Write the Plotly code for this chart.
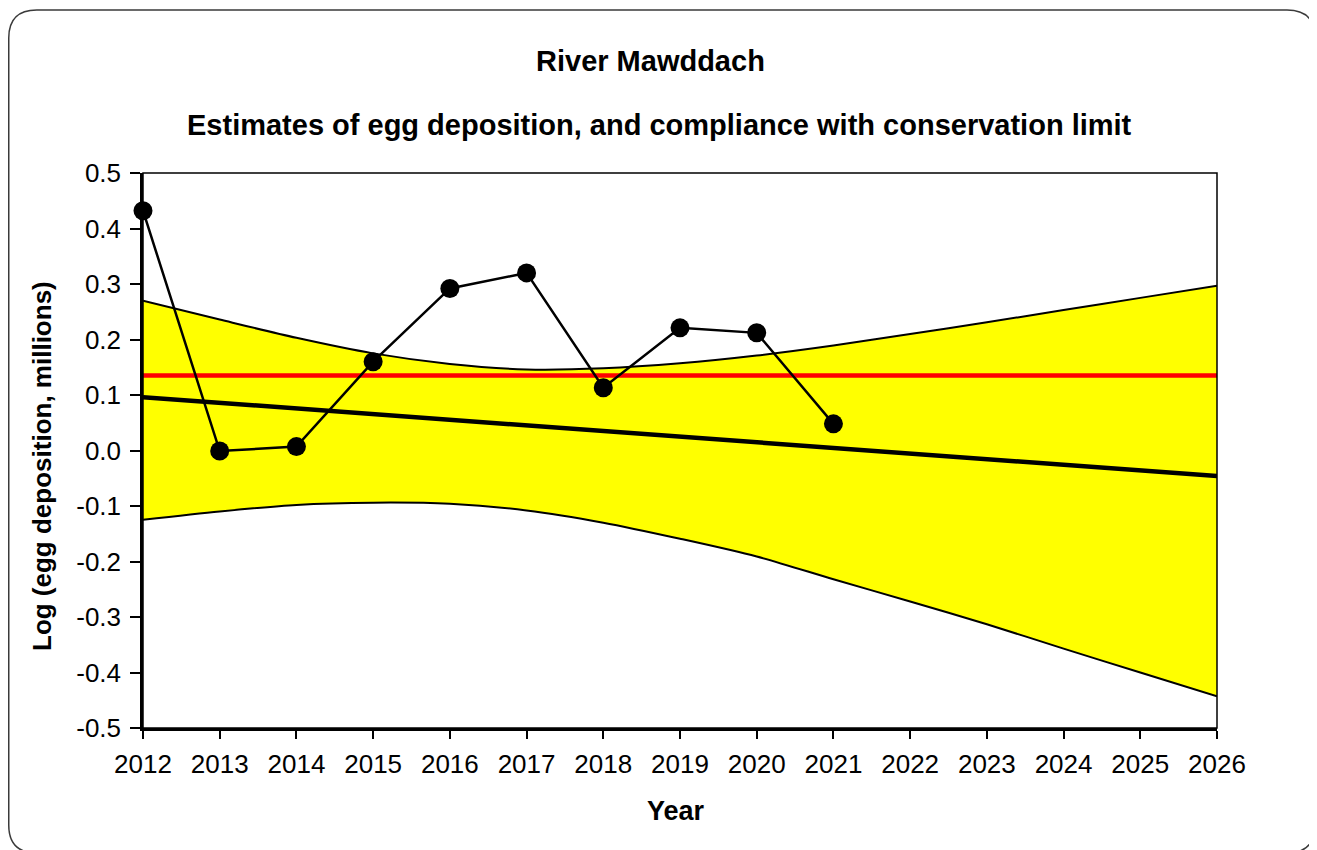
import plotly.graph_objects as go

# ---- data ----
years = [2012, 2013, 2014, 2015, 2016, 2017, 2018, 2019, 2020, 2021]
log_egg = [0.432, -0.001, 0.007, 0.160, 0.292, 0.320, 0.113, 0.221, 0.212, 0.048]

band_years = [2012, 2013, 2014, 2015, 2016, 2017, 2018, 2019, 2020, 2021, 2022, 2023, 2024, 2025, 2026]
upper_ci = [0.270, 0.236, 0.203, 0.175, 0.156, 0.146, 0.148, 0.157, 0.171, 0.189, 0.210, 0.231, 0.253, 0.275, 0.297]
lower_ci = [-0.125, -0.110, -0.098, -0.094, -0.096, -0.108, -0.130, -0.159, -0.191, -0.232, -0.272, -0.313, -0.357, -0.400, -0.443]

trend_years = [2012, 2026]
trend = [0.096, -0.046]

cl_years = [2012, 2026]
conservation_limit = [0.135, 0.135]

x_ticks = list(range(2012, 2027))
y_ticks = [0.5, 0.4, 0.3, 0.2, 0.1, 0.0, -0.1, -0.2, -0.3, -0.4, -0.5]
y_tick_labels = ["0.5", "0.4", "0.3", "0.2", "0.1", "0.0", "-0.1", "-0.2", "-0.3", "-0.4", "-0.5"]

FONT = "Liberation Sans, Arial, sans-serif"

# ---- layout geometry (figure pixels; page has an 8px body margin) ----
OFF = 8
W, H = 1309, 842
L, R, T, B = 135, 100, 165, 122
PW, PH = W - L - R, H - T - B


def px(x):  # page x -> paper
    return (x - OFF - L) / PW


def py(y):  # page y -> paper
    return (H - B - (y - OFF)) / PH


fig = go.Figure()

fig.add_trace(go.Scatter(
    x=band_years, y=lower_ci, mode="lines",
    line=dict(color="black", width=2, shape="spline", smoothing=0.8),
    hoverinfo="skip", showlegend=False))
fig.add_trace(go.Scatter(
    x=band_years, y=upper_ci, mode="lines", fill="tonexty", fillcolor="#FFFF00",
    line=dict(color="black", width=2, shape="spline", smoothing=0.8),
    hoverinfo="skip", showlegend=False))
fig.add_trace(go.Scatter(
    x=cl_years, y=conservation_limit, mode="lines",
    line=dict(color="#FF0000", width=4.5), showlegend=False))
fig.add_trace(go.Scatter(
    x=trend_years, y=trend, mode="lines",
    line=dict(color="black", width=4.5), showlegend=False))
fig.add_trace(go.Scatter(
    x=years, y=log_egg, mode="lines+markers",
    line=dict(color="black", width=2.5),
    marker=dict(color="black", size=19), showlegend=False, cliponaxis=False))

# rounded outer frame (page coords)
r = 28
x0, x1, y0, y1 = 8.75, 1315, 10, 853
path = (
    f"M {px(x0 + r)},{py(y0)} L {px(x1 - r)},{py(y0)} "
    f"Q {px(x1)},{py(y0)} {px(x1)},{py(y0 + r)} "
    f"L {px(x1)},{py(y1 - r)} Q {px(x1)},{py(y1)} {px(x1 - r)},{py(y1)} "
    f"L {px(x0 + r)},{py(y1)} Q {px(x0)},{py(y1)} {px(x0)},{py(y1 - r)} "
    f"L {px(x0)},{py(y0 + r)} Q {px(x0)},{py(y0)} {px(x0 + r)},{py(y0)} Z"
)
shapes = [
    dict(type="path", xref="paper", yref="paper", path=path,
         line=dict(color="#3a3a3a", width=1.5), layer="below"),
    dict(type="rect", xref="paper", yref="paper", x0=0, x1=1, y0=0, y1=1,
         line=dict(color="black", width=1.5), layer="above"),
]

annotations = [
    dict(text="<b>River Mawddach</b>", x=px(650), y=py(61), xref="paper", yref="paper",
         showarrow=False, font=dict(family=FONT, size=29, color="black"),
         xanchor="center", yanchor="middle"),
    dict(text="<b>Estimates of egg deposition, and compliance with conservation limit</b>",
         x=px(659), y=py(125), xref="paper", yref="paper",
         showarrow=False, font=dict(family=FONT, size=29, color="black"),
         xanchor="center", yanchor="middle"),
    dict(text="<b>Year</b>", x=px(676), y=py(811), xref="paper", yref="paper",
         showarrow=False, font=dict(family=FONT, size=27, color="black"),
         xanchor="center", yanchor="middle"),
    dict(text="<b>Log (egg deposition, millions)</b>", x=px(42), y=py(466),
         xref="paper", yref="paper", textangle=-90,
         showarrow=False, font=dict(family=FONT, size=26, color="black"),
         xanchor="center", yanchor="middle"),
]

fig.update_layout(
    width=W, height=H,
    margin=dict(l=L, r=R, t=T, b=B, pad=0),
    paper_bgcolor="white", plot_bgcolor="white",
    font=dict(family=FONT, size=26, color="black"),
    shapes=shapes, annotations=annotations,
    xaxis=dict(range=[2012, 2026], tickvals=x_ticks, ticktext=[str(v) for v in x_ticks],
               showgrid=False, zeroline=False, showline=True, linecolor="black", linewidth=2.5,
               ticks="outside", ticklen=8, tickwidth=1.5, tickcolor="black",
               ticklabelstandoff=3, fixedrange=True),
    yaxis=dict(range=[-0.5, 0.5], tickvals=y_ticks, ticktext=y_tick_labels,
               showgrid=False, zeroline=False, showline=True, linecolor="black", linewidth=2.5,
               ticks="outside", ticklen=10, tickwidth=1.5, tickcolor="black",
               ticklabelstandoff=4, fixedrange=True),
)

fig.write_html("out.html")
